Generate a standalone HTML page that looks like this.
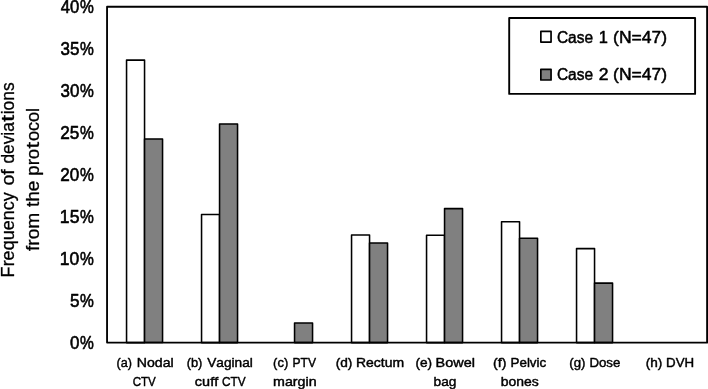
<!DOCTYPE html>
<html><head><meta charset="utf-8"><title>Frequency of deviations from the protocol</title>
<style>
html,body{margin:0;padding:0;background:#fff;}
svg{display:block;}
text{font-family:"Liberation Sans",sans-serif;fill:#000;stroke:#000;stroke-width:0.5;stroke-linejoin:round;font-kerning:none;}
.xl{stroke-width:0.45;}
.yt{stroke-width:0.3;}
.tk{stroke-width:0.6;}
</style></head><body>
<svg width="708" height="389" viewBox="0 0 708 389">
<rect x="0" y="0" width="708" height="389" fill="#fff"/>
<rect x="126.55" y="60.10" width="18.00" height="282.50" fill="#fff" stroke="#000" stroke-width="1.55" stroke-linejoin="round"/>
<rect x="144.55" y="138.90" width="18.00" height="203.70" fill="#808080" stroke="#000" stroke-width="1.55" stroke-linejoin="round"/>
<rect x="201.55" y="214.50" width="18.00" height="128.10" fill="#fff" stroke="#000" stroke-width="1.55" stroke-linejoin="round"/>
<rect x="219.55" y="123.90" width="18.00" height="218.70" fill="#808080" stroke="#000" stroke-width="1.55" stroke-linejoin="round"/>
<rect x="294.55" y="323.00" width="18.00" height="19.60" fill="#808080" stroke="#000" stroke-width="1.55" stroke-linejoin="round"/>
<rect x="351.55" y="235.00" width="18.00" height="107.60" fill="#fff" stroke="#000" stroke-width="1.55" stroke-linejoin="round"/>
<rect x="369.55" y="243.00" width="18.00" height="99.60" fill="#808080" stroke="#000" stroke-width="1.55" stroke-linejoin="round"/>
<rect x="426.55" y="235.20" width="18.00" height="107.40" fill="#fff" stroke="#000" stroke-width="1.55" stroke-linejoin="round"/>
<rect x="444.55" y="208.60" width="18.00" height="134.00" fill="#808080" stroke="#000" stroke-width="1.55" stroke-linejoin="round"/>
<rect x="501.55" y="221.70" width="18.00" height="120.90" fill="#fff" stroke="#000" stroke-width="1.55" stroke-linejoin="round"/>
<rect x="519.55" y="238.20" width="18.00" height="104.40" fill="#808080" stroke="#000" stroke-width="1.55" stroke-linejoin="round"/>
<rect x="576.55" y="248.60" width="18.00" height="94.00" fill="#fff" stroke="#000" stroke-width="1.55" stroke-linejoin="round"/>
<rect x="594.55" y="283.10" width="18.00" height="59.50" fill="#808080" stroke="#000" stroke-width="1.55" stroke-linejoin="round"/>
<rect x="107.05" y="6.75" width="600.05" height="335.85" fill="none" stroke="#000" stroke-width="1.85" stroke-linejoin="round"/>
<text class="tk" y="349.05" font-size="18.5"><tspan x="69.94" textLength="9.42" lengthAdjust="spacingAndGlyphs">0</tspan><tspan x="79.95" textLength="13.81" lengthAdjust="spacingAndGlyphs">%</tspan></text>
<text class="tk" y="307.07" font-size="18.5"><tspan x="69.92" textLength="9.50" lengthAdjust="spacingAndGlyphs">5</tspan><tspan x="79.95" textLength="13.81" lengthAdjust="spacingAndGlyphs">%</tspan></text>
<text class="tk" y="265.09" font-size="18.5"><tspan x="59.86" textLength="19.52" lengthAdjust="spacingAndGlyphs">10</tspan><tspan x="79.95" textLength="13.81" lengthAdjust="spacingAndGlyphs">%</tspan></text>
<text class="tk" y="223.11" font-size="18.5"><tspan x="59.86" textLength="19.58" lengthAdjust="spacingAndGlyphs">15</tspan><tspan x="79.95" textLength="13.81" lengthAdjust="spacingAndGlyphs">%</tspan></text>
<text class="tk" y="181.12" font-size="18.5"><tspan x="60.34" textLength="19.03" lengthAdjust="spacingAndGlyphs">20</tspan><tspan x="79.95" textLength="13.81" lengthAdjust="spacingAndGlyphs">%</tspan></text>
<text class="tk" y="139.14" font-size="18.5"><tspan x="60.34" textLength="19.08" lengthAdjust="spacingAndGlyphs">25</tspan><tspan x="79.95" textLength="13.81" lengthAdjust="spacingAndGlyphs">%</tspan></text>
<text class="tk" y="97.16" font-size="18.5"><tspan x="60.56" textLength="18.80" lengthAdjust="spacingAndGlyphs">30</tspan><tspan x="79.95" textLength="13.81" lengthAdjust="spacingAndGlyphs">%</tspan></text>
<text class="tk" y="55.18" font-size="18.5"><tspan x="60.55" textLength="18.86" lengthAdjust="spacingAndGlyphs">35</tspan><tspan x="79.95" textLength="13.81" lengthAdjust="spacingAndGlyphs">%</tspan></text>
<text class="tk" y="13.20" font-size="18.5"><tspan x="60.82" textLength="18.53" lengthAdjust="spacingAndGlyphs">40</tspan><tspan x="79.95" textLength="13.81" lengthAdjust="spacingAndGlyphs">%</tspan></text>
<text class="yt" transform="translate(13.8,0) rotate(-90)" font-size="18.1"><tspan x="-277.38" y="0" textLength="85.11" lengthAdjust="spacingAndGlyphs">Frequency</tspan> <tspan x="-185.52" y="0" textLength="16.19" lengthAdjust="spacingAndGlyphs">of</tspan> <tspan x="-163.53" y="0" textLength="41.33" lengthAdjust="spacingAndGlyphs">devia</tspan><tspan x="-121.99" y="0" textLength="7.18" lengthAdjust="spacingAndGlyphs">t</tspan><tspan x="-114.27" y="0" textLength="32.00" lengthAdjust="spacingAndGlyphs">ions</tspan></text>
<text class="yt" transform="translate(39.4,0) rotate(-90)" font-size="18.1"><tspan x="-251.07" y="0" textLength="38.33" lengthAdjust="spacingAndGlyphs">from</tspan> <tspan x="-207.09" y="0" textLength="26.43" lengthAdjust="spacingAndGlyphs">the</tspan> <tspan x="-175.70" y="0" textLength="26.88" lengthAdjust="spacingAndGlyphs">pro</tspan><tspan x="-148.88" y="0" textLength="6.96" lengthAdjust="spacingAndGlyphs">t</tspan><tspan x="-141.06" y="0" textLength="33.17" lengthAdjust="spacingAndGlyphs">ocol</tspan></text>
<rect x="509.2" y="18" width="185.9" height="75.9" fill="#fff" stroke="#000" stroke-width="1.9" stroke-linejoin="round"/>
<rect x="540.85" y="31.4" width="10.2" height="10.7" fill="#fff" stroke="#000" stroke-width="1.7" stroke-linejoin="round"/>
<rect x="540.85" y="69.3" width="10.2" height="10.7" fill="#808080" stroke="#000" stroke-width="1.7" stroke-linejoin="round"/>
<text font-size="17.3"><tspan x="556.91" y="43.0" textLength="36.18" lengthAdjust="spacingAndGlyphs">Case</tspan> <tspan x="598.75" y="43.0" textLength="9.16" lengthAdjust="spacingAndGlyphs">1</tspan> <tspan x="613.11" y="43.0" textLength="54.07" lengthAdjust="spacingAndGlyphs">(N=47)</tspan></text>
<text font-size="17.3"><tspan x="556.91" y="80.4" textLength="36.18" lengthAdjust="spacingAndGlyphs">Case</tspan> <tspan x="598.82" y="80.4" textLength="9.77" lengthAdjust="spacingAndGlyphs">2</tspan> <tspan x="613.11" y="80.4" textLength="54.07" lengthAdjust="spacingAndGlyphs">(N=47)</tspan></text>
<text class="xl" font-size="13.4"><tspan x="116.62" y="367.4" textLength="15.47" lengthAdjust="spacingAndGlyphs">(a)</tspan> <tspan x="136.74" y="367.4" textLength="36.90" lengthAdjust="spacingAndGlyphs">Nodal</tspan></text>
<text class="xl" font-size="13.4"><tspan x="132.71" y="385.9" textLength="23.14" lengthAdjust="spacingAndGlyphs">CTV</tspan></text>
<text class="xl" font-size="13.4"><tspan x="186.70" y="367.4" textLength="15.69" lengthAdjust="spacingAndGlyphs">(b)</tspan> <tspan x="207.24" y="367.4" textLength="45.57" lengthAdjust="spacingAndGlyphs">Vaginal</tspan></text>
<text class="xl" font-size="13.4"><tspan x="194.89" y="385.9" textLength="23.29" lengthAdjust="spacingAndGlyphs">cuff</tspan> <tspan x="222.00" y="385.9" textLength="23.65" lengthAdjust="spacingAndGlyphs">CTV</tspan></text>
<text class="xl" font-size="13.4"><tspan x="273.10" y="367.4" textLength="15.11" lengthAdjust="spacingAndGlyphs">(c)</tspan> <tspan x="292.51" y="367.4" textLength="23.55" lengthAdjust="spacingAndGlyphs">PTV</tspan></text>
<text class="xl" font-size="13.4"><tspan x="273.05" y="385.9" textLength="43.57" lengthAdjust="spacingAndGlyphs">margin</tspan></text>
<text class="xl" font-size="13.4"><tspan x="335.65" y="367.4" textLength="16.69" lengthAdjust="spacingAndGlyphs">(d)</tspan> <tspan x="355.95" y="367.4" textLength="48.17" lengthAdjust="spacingAndGlyphs">Rectum</tspan></text>
<text class="xl" font-size="13.4"><tspan x="415.45" y="367.4" textLength="16.69" lengthAdjust="spacingAndGlyphs">(e)</tspan> <tspan x="435.61" y="367.4" textLength="39.35" lengthAdjust="spacingAndGlyphs">Bowel</tspan></text>
<text class="xl" font-size="13.4"><tspan x="433.62" y="385.9" textLength="22.87" lengthAdjust="spacingAndGlyphs">bag</tspan></text>
<text class="xl" font-size="13.4"><tspan x="493.02" y="367.4" textLength="13.35" lengthAdjust="spacingAndGlyphs">(f)</tspan> <tspan x="510.50" y="367.4" textLength="35.75" lengthAdjust="spacingAndGlyphs">Pelvic</tspan></text>
<text class="xl" font-size="13.4"><tspan x="500.80" y="385.9" textLength="38.00" lengthAdjust="spacingAndGlyphs">bones</tspan></text>
<text class="xl" font-size="13.4"><tspan x="569.28" y="367.4" textLength="16.14" lengthAdjust="spacingAndGlyphs">(g)</tspan> <tspan x="589.41" y="367.4" textLength="30.98" lengthAdjust="spacingAndGlyphs">Dose</tspan></text>
<text class="xl" font-size="13.4"><tspan x="645.66" y="367.4" textLength="16.58" lengthAdjust="spacingAndGlyphs">(h)</tspan> <tspan x="666.11" y="367.4" textLength="28.08" lengthAdjust="spacingAndGlyphs">DVH</tspan></text>
</svg>
</body></html>
